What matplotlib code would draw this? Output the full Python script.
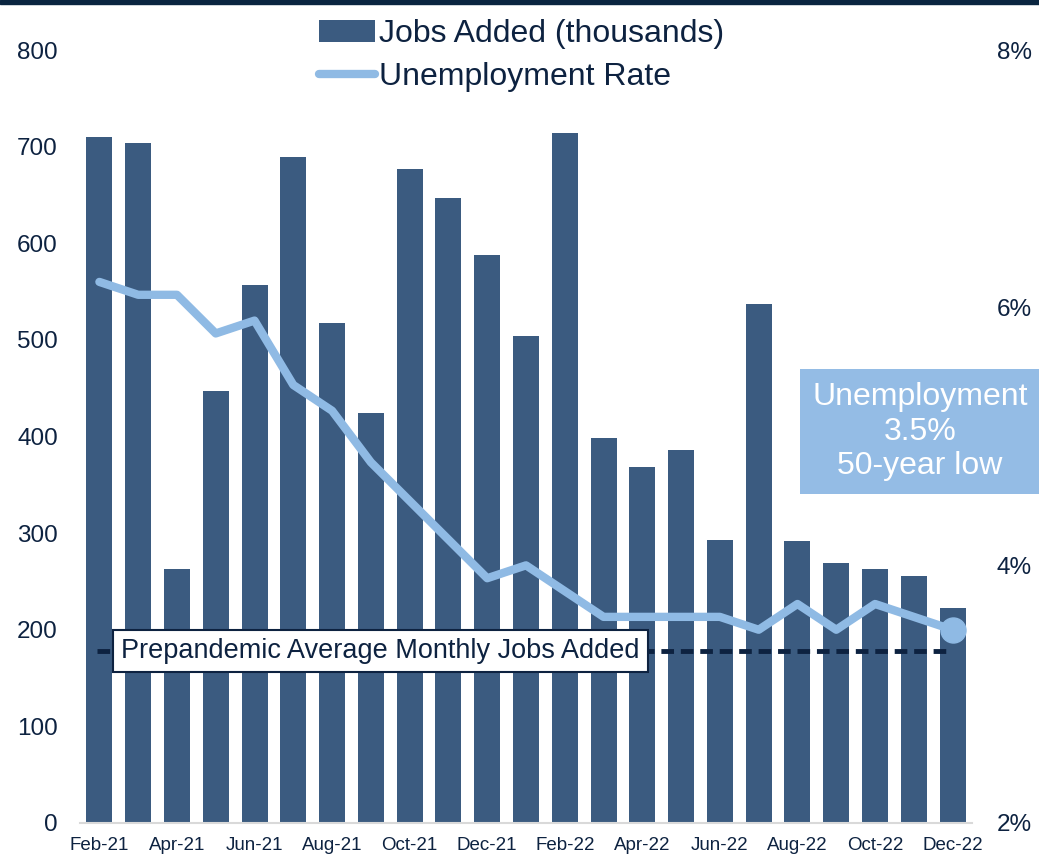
import matplotlib.pyplot as plt
from matplotlib.ticker import FuncFormatter

plt.rcParams['font.family'] = ['Liberation Sans', 'DejaVu Sans']

# monthly data, Feb-21 .. Dec-22
months = ['Feb-21', 'Mar-21', 'Apr-21', 'May-21', 'Jun-21', 'Jul-21', 'Aug-21',
          'Sep-21', 'Oct-21', 'Nov-21', 'Dec-21', 'Jan-22', 'Feb-22', 'Mar-22',
          'Apr-22', 'May-22', 'Jun-22', 'Jul-22', 'Aug-22', 'Sep-22', 'Oct-22',
          'Nov-22', 'Dec-22']
jobs_added = [710, 704, 263, 447, 557, 689, 517, 424, 677, 647, 588, 504, 714,
              398, 368, 386, 293, 537, 292, 269, 263, 256, 223]
unemployment = [6.2, 6.1, 6.1, 5.8, 5.9, 5.4, 5.2, 4.8, 4.5, 4.2, 3.9, 4.0, 3.8,
                3.6, 3.6, 3.6, 3.6, 3.5, 3.7, 3.5, 3.7, 3.6, 3.5]
prepandemic_avg = 178

navy = '#0d2240'
bar_color = '#3b5b80'
line_color = '#8fbae4'

fig = plt.figure(figsize=(10.39, 8.58), dpi=100)
ax = fig.add_axes([0.077, 0.0408, 0.8585, 0.9009])

x = list(range(len(months)))
bars = ax.bar(x, jobs_added, width=0.67, color=bar_color, zorder=2,
              label='Jobs Added (thousands)')
ax.hlines(prepandemic_avg, x[0] - 0.05, x[-1] - 0.1, colors=navy, linewidth=3.5,
          linestyles=(0, (2.6, 1.4)), zorder=3)
ax.text(7.25, prepandemic_avg, 'Prepandemic Average Monthly Jobs Added', fontsize=19.5,
        color=navy, ha='center', va='center', zorder=5,
        bbox=dict(boxstyle='square,pad=0.3', fc='white', ec=navy, lw=1.5))

ax.set_xlim(-0.5, len(months) - 0.5)
ax.set_ylim(0, 800)
ax.set_yticks(range(0, 801, 100))
ax.set_xticks(x[::2])
ax.set_xticklabels(months[::2])
ax.tick_params(axis='y', length=0, pad=16, labelsize=17.5, labelcolor=navy)
ax.tick_params(axis='x', length=0, pad=10, labelsize=13.5, labelcolor=navy)
for s in ['top', 'right', 'left']:
    ax.spines[s].set_visible(False)
ax.spines['bottom'].set_color('#d9d9d9')
ax.spines['bottom'].set_linewidth(1.5)

ax2 = ax.twinx()
line, = ax2.plot(x, unemployment, color=line_color, linewidth=6,
                 solid_joinstyle='round', solid_capstyle='round', zorder=4,
                 label='Unemployment Rate')
ax2.plot(x[-1], unemployment[-1], 'o', color=line_color, markersize=18, zorder=4)
ax2.set_ylim(2, 8)
ax2.set_yticks([2, 4, 6, 8])
ax2.yaxis.set_major_formatter(FuncFormatter(lambda v, p: f'{v:.0f}%'))
ax2.tick_params(axis='y', length=0, pad=18, labelsize=17.5, labelcolor=navy)
for s in ax2.spines.values():
    s.set_visible(False)

fig.legend(handles=[bars, line], loc='upper center', bbox_to_anchor=(0.502, 1.0),
           frameon=False, fontsize=23, labelcolor=navy, handlelength=1.75,
           handletextpad=0.1, labelspacing=0.4, borderaxespad=0.2)

fig.text(0.8855, 0.497, 'Unemployment\n3.5%\n50-year low', fontsize=23,
         color='white', ha='center', va='center', linespacing=1.2,
         bbox=dict(boxstyle='square,pad=0.4', fc='#94bce5', ec='none'))

# dark band at top edge
fig.patches.append(plt.Rectangle((0, 0.995), 1, 0.005, transform=fig.transFigure,
                                 color='#0a2540', zorder=10))

fig.savefig('out.png', dpi=100)
